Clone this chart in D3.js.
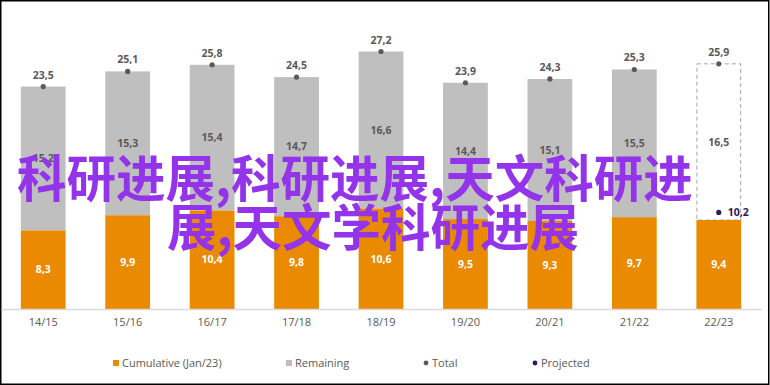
<!DOCTYPE html>
<html>
<head>
<meta charset="utf-8">
<script src="https://cdn.jsdelivr.net/npm/d3@7"></script>
<style>
    body { margin: 0; background: #fff; }
    svg text { font-family: "Open Sans", "DejaVu Sans", sans-serif; }
    .axis-x text { font-size: 11px; fill: #595959; }
    .axis-x path { stroke: #d9d9d9; stroke-width: 1.5; }
    .val { font-size: 10.5px; font-weight: 700; }
    .legend text { font-size: 11px; fill: #595959; }
    .watermark { font-family: "Noto Sans CJK SC", sans-serif; font-weight: 700; font-size: 49.5px; fill: #9333ea; }
</style>
</head>
<body>
<svg id="svg"></svg>
<script>
const seasons = ['14/15', '15/16', '16/17', '17/18', '18/19', '19/20', '20/21', '21/22', '22/23'];
const cumulative = [8.3, 9.9, 10.4, 9.8, 10.6, 9.5, 9.3, 9.7, 9.4];
const remaining = [15.2, 15.3, 15.4, 14.7, 16.6, 14.4, 15.1, 15.5, 16.5];
const totals = [23.5, 25.1, 25.8, 24.5, 27.2, 23.9, 24.3, 25.3, 25.9];
const projected = {season: '22/23', value: 10.2};
const legendItems = ['Cumulative (Jan/23)', 'Remaining', 'Total', 'Projected'];
const watermarkLines = ['科研进展,科研进展,天文科研进', '展,天文学科研进展'];

const width = 770, height = 385;
const colors = {cum: '#ea8a00', rem: '#bfbfbf', total: '#595959', proj: '#2b1a5c'};
const fmt = v => String(v).replace('.', ',');

const svg = d3.select('#svg').attr('width', width).attr('height', height);

svg.append('rect')
    .attr('x', 0.75).attr('y', 0.75)
    .attr('width', width - 2).attr('height', height - 1.5)
    .attr('fill', 'none').attr('stroke', '#000').attr('stroke-width', 1.5);

const xScale = d3.scaleBand()
    .domain(seasons)
    .range([1, 761])
    .paddingInner(0.47)
    .paddingOuter(0.235);

const yScale = d3.scaleLinear()
    .domain([0, 30])
    .range([309, 25]);

const rows = seasons.map((s, i) => ({
    season: s, cum: cumulative[i], rem: remaining[i], total: totals[i],
    isProjected: s === projected.season
}));

const bars = svg.append('g');

// remaining (grey) segment, dashed outline for the projected season
bars.selectAll('rect.rem')
    .data(rows)
  .enter().append('rect')
    .attr('class', 'rem')
    .attr('x', d => xScale(d.season) + (d.isProjected ? 0.5 : 0))
    .attr('width', d => xScale.bandwidth() - (d.isProjected ? 1 : 0))
    .attr('y', d => yScale(d.total))
    .attr('height', d => yScale(d.cum) - yScale(d.total))
    .attr('fill', d => d.isProjected ? '#fff' : colors.rem)
    .attr('stroke', d => d.isProjected ? '#a6a6a6' : 'none')
    .attr('stroke-dasharray', '4,3');

bars.selectAll('rect.cum')
    .data(rows)
  .enter().append('rect')
    .attr('class', 'cum')
    .attr('x', d => xScale(d.season))
    .attr('width', xScale.bandwidth())
    .attr('y', d => yScale(d.cum))
    .attr('height', d => yScale(0) - yScale(d.cum))
    .attr('fill', colors.cum);

const xAxis = d3.axisBottom(xScale).tickSize(0).tickPadding(9);
svg.append('g')
    .attr('class', 'axis-x')
    .attr('transform', 'translate(0,' + yScale(0) + ')')
    .call(xAxis)
    .call(g => g.selectAll('text').style('font-family', null));

const cx = d => xScale(d.season) + xScale.bandwidth() / 2;

// value labels
svg.append('g').selectAll('text')
    .data(rows)
  .enter().append('text')
    .attr('class', 'val')
    .attr('x', cx)
    .attr('y', d => yScale(d.cum / 2))
    .attr('dy', '0.35em')
    .attr('text-anchor', 'middle')
    .attr('fill', '#fff')
    .text(d => fmt(d.cum));

svg.append('g').selectAll('text')
    .data(rows)
  .enter().append('text')
    .attr('class', 'val')
    .attr('x', cx)
    .attr('y', d => yScale((d.cum + d.total) / 2))
    .attr('dy', '0.35em')
    .attr('text-anchor', 'middle')
    .attr('fill', '#595959')
    .text(d => fmt(d.rem));

// total dots + labels
svg.append('g').selectAll('circle')
    .data(rows)
  .enter().append('circle')
    .attr('cx', cx)
    .attr('cy', d => yScale(d.total))
    .attr('r', 2.6)
    .attr('fill', colors.total);

svg.append('g').selectAll('text')
    .data(rows)
  .enter().append('text')
    .attr('class', 'val')
    .attr('x', cx)
    .attr('y', d => yScale(d.total) - 8)
    .attr('text-anchor', 'middle')
    .attr('fill', '#595959')
    .text(d => fmt(d.total));

// projected point
const px = xScale(projected.season) + xScale.bandwidth() / 2;
svg.append('circle')
    .attr('cx', px)
    .attr('cy', yScale(projected.value))
    .attr('r', 2.6)
    .attr('fill', colors.proj);
svg.append('text')
    .attr('class', 'val')
    .attr('x', px + 9)
    .attr('y', yScale(projected.value))
    .attr('dy', '0.35em')
    .attr('fill', colors.proj)
    .text(fmt(projected.value));

// legend
const legend = svg.append('g').attr('class', 'legend');
const legendX = [116, 289, 426, 535];
legendItems.forEach((name, i) => {
    const g = legend.append('g').attr('transform', 'translate(' + legendX[i] + ',363)');
    if (i < 2) {
        g.append('rect').attr('x', -3).attr('y', -3).attr('width', 6).attr('height', 6)
            .attr('fill', i === 0 ? colors.cum : colors.rem);
    } else {
        g.append('circle').attr('r', 2.4).attr('fill', i === 2 ? colors.total : colors.proj);
    }
    g.append('text').attr('x', 6).attr('dy', '0.35em').text(name);
});

// overlaid watermark text
const wm = svg.append('g');
wm.append('text').attr('class', 'watermark')
    .attr('x', 17).attr('y', 175).attr('dominant-baseline', 'central')
    .text(watermarkLines[0]);
wm.append('text').attr('class', 'watermark')
    .attr('x', 167).attr('y', 224).attr('dominant-baseline', 'central')
    .text(watermarkLines[1]);
</script>
</body>
</html>
